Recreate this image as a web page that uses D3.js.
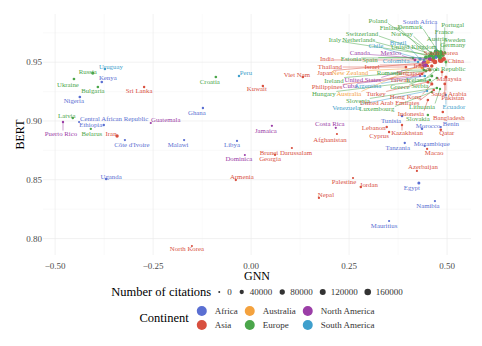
<!DOCTYPE html>
<html lang="en">
<head>
<meta charset="UTF-8"/>
<title>BERT vs GNN</title>
<style>
  body { margin: 0; background: #fff; }
  svg text { font-family: "Liberation Serif", "Times New Roman", serif; }
</style>
</head>
<body>
<svg id="chart" width="482" height="346"></svg>
<script src="https://d3js.org/d3.v7.min.js"></script>
<script>
// values
const countries = [
  "Uruguay", "Russia", "Kenya", "Ukraine", "Bulgaria", "Sri Lanka", "Nigeria", "Latvia", "Central African Republic", "Ethiopia",
  "Puerto Rico", "Belarus", "Iran", "Côte d'Ivoire", "Guatemala", "Uganda", "Croatia", "Peru", "Kuwait", "Viet Nam",
  "Ghana", "Jamaica", "Malawi", "Libya", "Brunei Darussalam", "Dominica", "Georgia", "Armenia", "North Korea", "Costa Rica",
  "Afghanistan", "Lebanon", "Cyprus", "Kazakhstan", "Tunisia", "Slovakia", "Morocco", "Benin", "Qatar", "Bangladesh",
  "Tanzania", "Mozambique", "Macao", "Azerbaijan", "Palestine", "Jordan", "Egypt", "Nepal", "Namibia", "Mauritius",
  "United States", "China", "United Kingdom", "Germany", "France", "Italy", "Japan", "Canada", "India", "Australia",
  "Spain", "Netherlands", "Switzerland", "South Korea", "Sweden", "Brazil", "Israel", "Austria", "Denmark", "Poland",
  "Finland", "Norway", "Portugal", "Czech Republic", "South Africa", "Mexico", "Chile", "Colombia", "Estonia", "Thailand",
  "Iraq", "Singapore", "New Zealand", "Romania", "Ireland", "Taiwan", "Iceland", "Malaysia", "Philippines", "Cuba",
  "Argentina", "Greece", "Serbia", "Saudi Arabia", "Hungary", "Turkey", "Hong Kong", "Pakistan", "Slovenia", "United Arab Emirates",
  "Venezuela", "Luxembourg", "Lithuania", "Ecuador", "Indonesia"
];
const continent = [
  "South America", "Europe", "Africa", "Europe", "Europe", "Asia", "Africa", "Europe", "Africa", "Africa",
  "North America", "Europe", "Asia", "Africa", "North America", "Africa", "Europe", "South America", "Asia", "Asia",
  "Africa", "North America", "Africa", "Africa", "Asia", "North America", "Asia", "Asia", "Asia", "North America",
  "Asia", "Asia", "Asia", "Asia", "Africa", "Europe", "Africa", "Africa", "Asia", "Asia",
  "Africa", "Africa", "Asia", "Asia", "Asia", "Asia", "Africa", "Asia", "Africa", "Africa",
  "North America", "Asia", "Europe", "Europe", "Europe", "Europe", "Asia", "North America", "Asia", "Australia",
  "Europe", "Europe", "Europe", "Asia", "Europe", "South America", "Asia", "Europe", "Europe", "Europe",
  "Europe", "Europe", "Europe", "Europe", "Africa", "North America", "South America", "South America", "Europe", "Asia",
  "Asia", "Asia", "Australia", "Europe", "Europe", "Asia", "Europe", "Asia", "Asia", "North America",
  "South America", "Europe", "Europe", "Asia", "Europe", "Asia", "Asia", "Asia", "Europe", "Asia",
  "South America", "Europe", "Europe", "South America", "Asia"
];
const gnn = [
  -0.373, -0.404, -0.381, -0.452, -0.391, -0.273, -0.437, -0.455, -0.439, -0.376,
  -0.480, -0.409, -0.342, -0.322, -0.256, -0.370, -0.090, -0.031, 0.030, 0.132,
  -0.123, 0.053, -0.171, -0.036, 0.104, -0.016, 0.061, -0.039, -0.151, 0.216,
  0.219, 0.346, 0.352, 0.385, 0.385, 0.451, 0.436, 0.484, 0.484, 0.489,
  0.392, 0.443, 0.449, 0.423, 0.260, 0.280, 0.428, 0.173, 0.469, 0.352,
  0.443, 0.484, 0.474, 0.484, 0.472, 0.459, 0.469, 0.456, 0.464, 0.451,
  0.446, 0.466, 0.482, 0.492, 0.489, 0.431, 0.431, 0.484, 0.477, 0.464,
  0.454, 0.459, 0.494, 0.497, 0.472, 0.418, 0.441, 0.426, 0.413, 0.395,
  0.451, 0.461, 0.436, 0.441, 0.446, 0.456, 0.472, 0.487, 0.436, 0.431,
  0.443, 0.461, 0.474, 0.497, 0.456, 0.451, 0.461, 0.494, 0.474, 0.466,
  0.449, 0.461, 0.482, 0.497, 0.451
];
const bert = [
  0.9442, 0.9408, 0.9332, 0.9357, 0.9289, 0.9289, 0.9204, 0.9025, 0.8991, 0.8966,
  0.8991, 0.8933, 0.8872, 0.8838, 0.8983, 0.8506, 0.9374, 0.9383, 0.9298, 0.9374,
  0.9110, 0.8959, 0.8838, 0.8830, 0.8770, 0.8711, 0.8711, 0.8498, 0.7937, 0.8942,
  0.8889, 0.8949, 0.8906, 0.8966, 0.9042, 0.9051, 0.8933, 0.8949, 0.8925, 0.9076,
  0.8813, 0.8787, 0.8762, 0.8575, 0.8515, 0.8438, 0.8472, 0.8345, 0.8319, 0.8149,
  0.9485, 0.9519, 0.9560, 0.9570, 0.9590, 0.9560, 0.9502, 0.9527, 0.9519, 0.9502,
  0.9540, 0.9540, 0.9540, 0.9527, 0.9560, 0.9527, 0.9476, 0.9590, 0.9590, 0.9570,
  0.9550, 0.9580, 0.9580, 0.9502, 0.9540, 0.9519, 0.9519, 0.9502, 0.9536, 0.9459,
  0.9468, 0.9468, 0.9451, 0.9434, 0.9425, 0.9434, 0.9434, 0.9417, 0.9400, 0.9383,
  0.9383, 0.9383, 0.9366, 0.9374, 0.9349, 0.9332, 0.9315, 0.9315, 0.9281, 0.9264,
  0.9255, 0.9247, 0.9272, 0.9221, 0.9178
];
const citations = [
  2000, 12000, 3000, 4000, 3000, 1500, 4000, 1500, 100, 2000,
  1000, 1000, 15000, 500, 300, 1500, 3000, 1500, 1500, 2500,
  1000, 400, 500, 300, 300, 50, 500, 800, 50, 500,
  200, 1500, 1000, 1000, 2500, 2000, 2000, 200, 2500, 2500,
  800, 300, 500, 300, 200, 1500, 8000, 600, 300, 200,
  170000, 120000, 90000, 80000, 55000, 45000, 55000, 45000, 40000, 35000,
  30000, 30000, 25000, 30000, 18000, 15000, 12000, 12000, 12000, 10000,
  8000, 8000, 8000, 6000, 6000, 6000, 4000, 2000, 2000, 4000,
  2000, 15000, 5000, 3000, 5000, 12000, 800, 5000, 1000, 300,
  3000, 7000, 2000, 8000, 3000, 10000, 10000, 5000, 2000, 3000,
  500, 1000, 1000, 800, 3000
];
const continents = ["Africa", "Asia", "Australia", "Europe", "North America", "South America"];
const continentColors = ["#5a6fd2", "#d8503f", "#f4a23e", "#4ba64b", "#9b3ea7", "#3f9fcc"];
const sizeBreaks = [0, 40000, 80000, 120000, 160000];
const xTicks = [-0.50, -0.25, 0.00, 0.25, 0.50];
const yTicks = [0.80, 0.85, 0.90, 0.95];

// label placement (pixel offset of label centre from its point), repel-style
const labelNudge = [
  [6,-3], [-5,-2], [6,-4], [-6,5], [-5,3], [-5,3], [-6,4], [-6,-3], [35,-4], [-13,0],
  [-2,11], [1,5], [-6,-3], [7,4], [15,-3], [5,-3], [-6,4], [7,-3], [-6,3], [-6,-3],
  [-6,4], [-6,5], [-6,4], [-5,4], [-6,4], [-6,4], [-5,4], [6,-3], [-5,3], [-6,-4],
  [-7,5], [-13,1], [-10,3], [5,8], [-11,4], [-10,4], [6,-3], [10,-3], [6,3], [6,5],
  [-7,5], [7,-3], [7,4], [6,-4], [-9,4], [8,-3], [-7,4], [7,-3], [-7,4], [-5,4],
  [-62,16], [15,1], [-23,-9], [12,-9], [8,-20], [-96,-16], [-110,11], [-70,-7], [-106,-1], [-79,32],
  [-56,2], [-75,-18], [-78,-24], [-3,-7], [12,-16], [-22,-17], [-48,1], [-4,-13], [-28,-25], [-55,-33],
  [-39,-29], [-29,-19], [8,-28], [-2,7], [-16,-36], [-24,-7], [-48,-14], [-22,-1], [-62,1], [-76,-1],
  [-9,0], [-21,7], [-72,5], [-35,3], [-92,9], [-30,10], [-20,10], [7,7], [-95,13], [-70,10],
  [-57,10], [-32,11], [-17,8], [3,16], [-106,14], [-52,12], [-26,13], [8,14], [-79,13], [-44,13],
  [-81,16], [-55,17], [-18,17], [8,12], [-17,13]
];

const svg = d3.select("#chart");

const x = d3.scaleLinear().domain([-0.531, 0.561]).range([43, 471]);
const y = d3.scaleLinear().domain([0.786, 0.991]).range([255, 14]);
const color = d3.scaleOrdinal().domain(continents).range(continentColors);
const size = d3.scaleSqrt().domain([0, 160000]).range([1, 3.3]);

const [x0, x1] = x.range();
const [y0, y1] = y.range();

// grid (theme_minimal)
const grid = svg.append("g");
const xMinor = d3.range(-0.625, 0.626, 0.25).filter(v => v > x.domain()[0] && v < x.domain()[1]);
const yMinor = [0.775, 0.825, 0.875, 0.925, 0.975].filter(v => v > y.domain()[0] && v < y.domain()[1]);
grid.selectAll(".xmin").data(xMinor).enter().append("line")
    .attr("x1", d => x(d)).attr("x2", d => x(d)).attr("y1", y1).attr("y2", y0)
    .attr("stroke", "#f3f3f3").attr("stroke-width", 0.4);
grid.selectAll(".ymin").data(yMinor).enter().append("line")
    .attr("y1", d => y(d)).attr("y2", d => y(d)).attr("x1", x0).attr("x2", x1)
    .attr("stroke", "#f3f3f3").attr("stroke-width", 0.4);
grid.selectAll(".xmaj").data(xTicks).enter().append("line")
    .attr("x1", d => x(d)).attr("x2", d => x(d)).attr("y1", y1).attr("y2", y0)
    .attr("stroke", "#e9e9e9").attr("stroke-width", 0.6);
grid.selectAll(".ymaj").data(yTicks).enter().append("line")
    .attr("y1", d => y(d)).attr("y2", d => y(d)).attr("x1", x0).attr("x2", x1)
    .attr("stroke", "#e9e9e9").attr("stroke-width", 0.6);

// tick labels
svg.append("g").selectAll("text").data(xTicks).enter().append("text")
    .attr("x", d => x(d)).attr("y", y0 + 11)
    .attr("text-anchor", "middle").attr("dominant-baseline", "central")
    .attr("font-size", 9).attr("fill", "#4d4d4d")
    .text(d => d3.format(".2f")(d).replace("-", "-"));
svg.append("g").selectAll("text").data(yTicks).enter().append("text")
    .attr("x", x0 - 1).attr("y", d => y(d))
    .attr("text-anchor", "end").attr("dominant-baseline", "central")
    .attr("font-size", 9).attr("fill", "#4d4d4d")
    .text(d => d3.format(".2f")(d));

// axis titles
svg.append("text").attr("x", (x0 + x1) / 2).attr("y", 276)
    .attr("text-anchor", "middle").attr("dominant-baseline", "central")
    .attr("font-size", 12).text("GNN");
svg.append("text")
    .attr("transform", `translate(20,${(y0 + y1) / 2}) rotate(-90)`)
    .attr("text-anchor", "middle").attr("dominant-baseline", "central")
    .attr("font-size", 12).text("BERT");

const rows = countries.map((c, i) => ({
  name: c, cont: continent[i], gx: gnn[i], by: bert[i], cit: citations[i],
  dx: labelNudge[i][0], dy: labelNudge[i][1]
}));

// points
svg.append("g").selectAll("circle").data(rows).enter().append("circle")
    .attr("cx", d => x(d.gx)).attr("cy", d => y(d.by))
    .attr("r", d => size(d.cit))
    .attr("fill", d => color(d.cont));

// labels and repel segments
const segG = svg.append("g");
const labG = svg.append("g");
const labels = labG.selectAll("text").data(rows).enter().append("text")
    .attr("x", d => x(d.gx) + d.dx).attr("y", d => y(d.by) + d.dy)
    .attr("text-anchor", "middle").attr("dominant-baseline", "central")
    .attr("font-size", 6.8)
    .attr("fill", d => color(d.cont))
    .text(d => d.name);

labels.each(function (d) {
  const b = this.getBBox();
  const px = x(d.gx), py = y(d.by);
  const cx = Math.max(b.x, Math.min(px, b.x + b.width));
  const cy = Math.max(b.y + 1, Math.min(py, b.y + b.height - 1));
  const dist = Math.hypot(px - cx, py - cy);
  if (dist > 3) {
    segG.append("line")
        .attr("x1", cx).attr("y1", cy).attr("x2", px).attr("y2", py)
        .attr("stroke", color(d.cont)).attr("stroke-width", 0.5);
  }
});

// legend: size
const lgSize = svg.append("g");
const t1 = lgSize.append("text").attr("x", 0).attr("y", 0)
    .attr("dominant-baseline", "central").attr("font-size", 12.5)
    .text("Number of citations");
let cur = t1.node().getComputedTextLength() + 8;
sizeBreaks.forEach(v => {
  lgSize.append("circle").attr("cx", cur).attr("cy", 0).attr("r", size(v)).attr("fill", "#333");
  const t = lgSize.append("text").attr("x", cur + 8).attr("y", 0)
      .attr("dominant-baseline", "central").attr("font-size", 9).attr("fill", "#333")
      .text(v);
  cur += 8 + t.node().getComputedTextLength() + 10;
});
const sizeW = cur - 10;
lgSize.attr("transform", `translate(${(x0 + x1) / 2 - sizeW / 2},292)`);

// legend: continent
const lgCont = svg.append("g");
const t2 = lgCont.append("text").attr("x", 0).attr("y", 7)
    .attr("dominant-baseline", "central").attr("font-size", 12.5)
    .text("Continent");
let cx2 = t2.node().getComputedTextLength() + 13;
for (let col = 0; col < 3; col++) {
  let maxW = 0;
  for (let row = 0; row < 2; row++) {
    const k = continents[col * 2 + row];
    lgCont.append("circle").attr("cx", cx2).attr("cy", row * 14).attr("r", 5).attr("fill", color(k));
    const t = lgCont.append("text").attr("x", cx2 + 13).attr("y", row * 14)
        .attr("dominant-baseline", "central").attr("font-size", 9).attr("fill", "#333")
        .text(k);
    maxW = Math.max(maxW, t.node().getComputedTextLength());
  }
  cx2 += 13 + maxW + 12;
}
const contW = cx2 - 12;
lgCont.attr("transform", `translate(${(x0 + x1) / 2 - contW / 2},311)`);
</script>
</body>
</html>
